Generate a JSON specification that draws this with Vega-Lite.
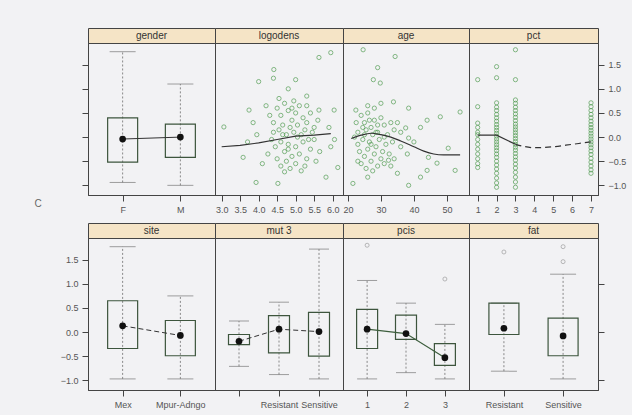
{
"$schema": "https://vega.github.io/schema/vega-lite/v6.json",
"background": "#f2f2f4",
"padding": {"left": 33, "top": 27, "right": 5, "bottom": 5},
"config": {
  "view": {"stroke": "#444", "strokeWidth": 1},
  "axis": {"labelFont": "Liberation Sans", "labelFontSize": 9, "labelColor": "#555", "domainColor": "#444", "tickColor": "#444", "tickSize": 6, "grid": false, "title": null, "labelPadding": 4, "labelFlush": false, "labelOverlap": false},
  "text": {"font": "Liberation Sans"}
},
"datasets": {
  "logodens": [
    {"x":5.63,"y":1.65},{"x":5.95,"y":1.75},{"x":4.41,"y":1.4},{"x":4.4,"y":1.22},{"x":4.0,"y":1.15},{"x":5.0,"y":1.19},{"x":3.06,"y":0.21},{"x":3.74,"y":0.56},{"x":6.04,"y":0.56},{"x":5.63,"y":0.56},{"x":3.58,"y":-0.42},{"x":3.93,"y":-0.94},{"x":4.52,"y":-0.96},{"x":5.82,"y":-0.83},{"x":6.14,"y":-0.63},{"x":3.7,"y":-0.1},{"x":3.85,"y":0.3},{"x":4.1,"y":-0.55},{"x":3.95,"y":0.05},{"x":5.9,"y":0.2},{"x":5.95,"y":-0.2},{"x":6.05,"y":-0.05},{"x":4.2,"y":0.65},{"x":5.3,"y":0.85},{"x":4.8,"y":1.0},
    {"x":4.5,"y":0.6},{"x":4.6,"y":0.45},{"x":4.7,"y":0.7},{"x":4.8,"y":0.55},{"x":4.9,"y":0.35},{"x":5.0,"y":0.5},{"x":5.1,"y":0.65},{"x":5.2,"y":0.4},{"x":5.3,"y":0.3},{"x":5.4,"y":0.5},{"x":5.5,"y":0.2},{"x":4.4,"y":0.3},{"x":4.55,"y":0.15},{"x":4.65,"y":0.25},{"x":4.75,"y":0.05},{"x":4.85,"y":0.2},{"x":4.95,"y":0.1},{"x":5.05,"y":0.25},{"x":5.15,"y":0.05},{"x":5.25,"y":0.15},{"x":5.35,"y":-0.05},{"x":5.45,"y":0.1},{"x":4.35,"y":-0.05},{"x":4.45,"y":-0.2},{"x":4.6,"y":-0.1},{"x":4.7,"y":-0.3},{"x":4.8,"y":-0.15},{"x":4.9,"y":-0.4},{"x":5.0,"y":-0.2},{"x":5.1,"y":-0.35},{"x":5.2,"y":-0.1},{"x":5.3,"y":-0.45},{"x":5.4,"y":-0.25},{"x":5.55,"y":-0.5},{"x":4.5,"y":-0.45},{"x":4.6,"y":-0.6},{"x":4.75,"y":-0.5},{"x":4.85,"y":-0.65},{"x":5.0,"y":-0.55},{"x":5.15,"y":-0.7},{"x":5.25,"y":-0.6},{"x":4.3,"y":0.45},{"x":4.4,"y":0.1},{"x":4.55,"y":0.8},{"x":4.95,"y":0.75},{"x":5.6,"y":0.35},{"x":5.65,"y":-0.3},{"x":4.25,"y":-0.35},{"x":4.7,"y":-0.72},{"x":5.05,"y":0.0},{"x":4.9,"y":0.6},{"x":5.3,"y":0.65},{"x":4.65,"y":0.05},{"x":5.5,"y":-0.05},{"x":4.8,"y":-0.25}
  ],
  "logodens_fit": [{"x":3.0,"y":-0.2},{"x":3.5,"y":-0.17},{"x":4.0,"y":-0.12},{"x":4.5,"y":-0.05},{"x":5.0,"y":0.02},{"x":5.5,"y":0.04},{"x":5.95,"y":0.07}],
  "age": [
    {"x":24.6,"y":1.81},{"x":34.3,"y":1.67},{"x":29,"y":1.44},{"x":27.7,"y":1.19},{"x":29.8,"y":1.12},{"x":22.4,"y":0.56},{"x":33.8,"y":0.73},{"x":38.4,"y":0.6},{"x":44,"y":0.35},{"x":48,"y":0.42},{"x":54,"y":0.52},{"x":37.5,"y":0.19},{"x":38.4,"y":-0.02},{"x":50.4,"y":-0.23},{"x":44.4,"y":-0.42},{"x":47,"y":-0.54},{"x":52.5,"y":-0.69},{"x":44,"y":-0.69},{"x":38.4,"y":-1.0},{"x":42,"y":-0.83},{"x":21.5,"y":-0.96},{"x":26,"y":-0.83},{"x":35,"y":-0.75},{"x":32.3,"y":-0.48},
    {"x":24,"y":0.45},{"x":25,"y":0.3},{"x":26,"y":0.5},{"x":27,"y":0.2},{"x":28,"y":0.35},{"x":29,"y":0.1},{"x":30,"y":0.4},{"x":31,"y":0.25},{"x":32,"y":0.05},{"x":33,"y":0.3},{"x":34,"y":0.15},{"x":23,"y":0.1},{"x":24.5,"y":-0.05},{"x":25.5,"y":0.15},{"x":26.5,"y":-0.1},{"x":27.5,"y":0.05},{"x":28.5,"y":-0.2},{"x":29.5,"y":-0.05},{"x":30.5,"y":-0.3},{"x":31.5,"y":-0.15},{"x":32.5,"y":-0.35},{"x":33.5,"y":-0.1},{"x":23.5,"y":-0.3},{"x":25,"y":-0.4},{"x":26,"y":-0.25},{"x":27,"y":-0.5},{"x":28,"y":-0.35},{"x":29,"y":-0.6},{"x":30,"y":-0.45},{"x":31,"y":-0.55},{"x":25.5,"y":-0.65},{"x":27.5,"y":-0.7},{"x":24,"y":-0.55},{"x":22.5,"y":0.3},{"x":23,"y":-0.15},{"x":26,"y":0.65},{"x":28,"y":0.6},{"x":30,"y":0.7},{"x":25,"y":0.05},{"x":27,"y":-0.15},{"x":29,"y":0.25},{"x":31,"y":0.0},{"x":35,"y":0.3},{"x":36,"y":-0.2},{"x":34,"y":-0.45},{"x":26.5,"y":0.35},{"x":28.5,"y":0.1},{"x":24.5,"y":0.2},{"x":22,"y":0.0},{"x":33,"y":-0.6},{"x":36,"y":0.1},{"x":38,"y":-0.35},{"x":40,"y":-0.1},{"x":42,"y":0.2},{"x":23,"y":-0.5}
  ],
  "age_fit": [{"x":21,"y":-0.03},{"x":24,"y":0.04},{"x":27,"y":0.08},{"x":30,"y":0.05},{"x":33,"y":0.0},{"x":36,"y":-0.08},{"x":40,"y":-0.2},{"x":43,"y":-0.29},{"x":46,"y":-0.35},{"x":49,"y":-0.37},{"x":54,"y":-0.37}],
  "pct": [
    {"x":1,"y":1.19},{"x":1,"y":0.63},{"x":1,"y":0.29},{"x":1,"y":0.2},{"x":1,"y":0.1},{"x":1,"y":0.05},{"x":1,"y":-0.05},{"x":1,"y":-0.15},{"x":1,"y":-0.25},{"x":1,"y":-0.35},{"x":1,"y":-0.45},{"x":1,"y":-0.55},{"x":1,"y":-0.63},
    {"x":2,"y":1.46},{"x":2,"y":1.23},{"x":2,"y":0.71},{"x":2,"y":0.62},{"x":2,"y":0.55},{"x":2,"y":0.47},{"x":2,"y":0.4},{"x":2,"y":0.33},{"x":2,"y":0.26},{"x":2,"y":0.2},{"x":2,"y":0.14},{"x":2,"y":0.08},{"x":2,"y":0.02},{"x":2,"y":-0.04},{"x":2,"y":-0.1},{"x":2,"y":-0.16},{"x":2,"y":-0.22},{"x":2,"y":-0.28},{"x":2,"y":-0.35},{"x":2,"y":-0.42},{"x":2,"y":-0.5},{"x":2,"y":-0.58},{"x":2,"y":-0.66},{"x":2,"y":-0.75},{"x":2,"y":-0.85},{"x":2,"y":-0.95},{"x":2,"y":-1.04},
    {"x":3,"y":1.81},{"x":3,"y":1.19},{"x":3,"y":0.77},{"x":3,"y":0.7},{"x":3,"y":0.62},{"x":3,"y":0.55},{"x":3,"y":0.48},{"x":3,"y":0.41},{"x":3,"y":0.34},{"x":3,"y":0.27},{"x":3,"y":0.21},{"x":3,"y":0.15},{"x":3,"y":0.09},{"x":3,"y":0.03},{"x":3,"y":-0.03},{"x":3,"y":-0.09},{"x":3,"y":-0.15},{"x":3,"y":-0.21},{"x":3,"y":-0.27},{"x":3,"y":-0.34},{"x":3,"y":-0.41},{"x":3,"y":-0.48},{"x":3,"y":-0.56},{"x":3,"y":-0.64},{"x":3,"y":-0.73},{"x":3,"y":-0.83},{"x":3,"y":-0.93},{"x":3,"y":-1.04},
    {"x":7,"y":0.71},{"x":7,"y":0.63},{"x":7,"y":0.55},{"x":7,"y":0.47},{"x":7,"y":0.4},{"x":7,"y":0.33},{"x":7,"y":0.26},{"x":7,"y":0.2},{"x":7,"y":0.14},{"x":7,"y":0.08},{"x":7,"y":0.02},{"x":7,"y":-0.04},{"x":7,"y":-0.1},{"x":7,"y":-0.16},{"x":7,"y":-0.22},{"x":7,"y":-0.29},{"x":7,"y":-0.36},{"x":7,"y":-0.44},{"x":7,"y":-0.52},{"x":7,"y":-0.6},{"x":7,"y":-0.68},{"x":7,"y":-0.75}
  ],
  "pct_fit_a": [{"x":1,"y":0.04},{"x":2,"y":0.04},{"x":3,"y":-0.15}],
  "pct_fit_b": [{"x":3,"y":-0.15},{"x":4,"y":-0.22},{"x":5,"y":-0.2},{"x":6,"y":-0.15},{"x":7,"y":-0.1}],
  "gender": [{"cat":"F","lo":-0.94,"q1":-0.52,"mean":-0.04,"q3":0.4,"hi":1.77},{"cat":"M","lo":-1.0,"q1":-0.42,"mean":0.0,"q3":0.27,"hi":1.1}],
  "site": [{"cat":"Mex","lo":-0.97,"q1":-0.34,"mean":0.13,"q3":0.65,"hi":1.77},{"cat":"Mpur-Adngo","lo":-0.97,"q1":-0.49,"mean":-0.07,"q3":0.24,"hi":0.75}],
  "mut3": [{"cat":"Absent","lo":-0.71,"q1":-0.26,"mean":-0.19,"q3":-0.05,"hi":0.23},{"cat":"Resistant","lo":-0.88,"q1":-0.43,"mean":0.06,"q3":0.34,"hi":0.62},{"cat":"Sensitive","lo":-0.97,"q1":-0.5,"mean":0.01,"q3":0.41,"hi":1.72}],
  "pcis": [{"cat":"1","lo":-0.97,"q1":-0.34,"mean":0.06,"q3":0.47,"hi":1.07},{"cat":"2","lo":-0.84,"q1":-0.15,"mean":-0.03,"q3":0.35,"hi":0.6},{"cat":"3","lo":-0.97,"q1":-0.69,"mean":-0.53,"q3":-0.24,"hi":0.16}],
  "pcis_out": [{"cat":"1","v":1.8},{"cat":"3","v":1.1}],
  "fat": [{"cat":"Resistant","lo":-0.81,"q1":-0.05,"mean":0.08,"q3":0.6,"hi":0.6},{"cat":"Sensitive","lo":-0.97,"q1":-0.49,"mean":-0.08,"q3":0.29,"hi":1.2}],
  "fat_out": [{"cat":"Resistant","v":1.66},{"cat":"Sensitive","v":1.77},{"cat":"Sensitive","v":1.46}]
},
"columns": 4,
"spacing": 0,
"bounds": "flush",
"align": "each",
"concat": [
  {"width":127,"height":15,"data":{"values":[{"s":"gender"}]},"mark":{"type":"text","fontSize":10,"color":"#333"},"encoding":{"text":{"field":"s"}},"view":{"fill":"#f5e4c6","stroke":"#444"}},
  {"width":128,"height":15,"data":{"values":[{"s":"logodens"}]},"mark":{"type":"text","fontSize":10,"color":"#333"},"encoding":{"text":{"field":"s"}},"view":{"fill":"#f5e4c6","stroke":"#444"}},
  {"width":126,"height":15,"data":{"values":[{"s":"age"}]},"mark":{"type":"text","fontSize":10,"color":"#333"},"encoding":{"text":{"field":"s"}},"view":{"fill":"#f5e4c6","stroke":"#444"}},
  {"width":129,"height":15,"data":{"values":[{"s":"pct"}]},"mark":{"type":"text","fontSize":10,"color":"#333"},"encoding":{"text":{"field":"s"}},"view":{"fill":"#f5e4c6","stroke":"#444"}},

  {"width":127,"height":152,"data":{"name":"gender"},"encoding":{"x":{"field":"cat","type":"nominal","scale":{"type":"point","padding":0.6},"axis":{"labelAngle":0}}},"layer":[
    {"mark":{"type":"rule","color":"#888","strokeDash":[2,2]},"encoding":{"y":{"field":"lo","type":"quantitative","scale":{"domain":[-1.2,1.95],"nice":false},"axis":{"orient":"left","labels":false,"values":[-1,-0.5,0,0.5,1,1.5],"tickCount":20,"title":"C","titleAngle":0,"titleX":-54,"titleY":165,"titleAlign":"left","titleFontSize":10,"titleFontWeight":"normal","titleColor":"#666","titleFont":"Liberation Sans"}},"y2":{"field":"hi"}}},
    {"mark":{"type":"tick","size":26,"thickness":1,"color":"#777","strokeDash":[3,3]},"encoding":{"y":{"field":"lo","type":"quantitative"}}},
    {"mark":{"type":"tick","size":26,"thickness":1,"color":"#777","strokeDash":[3,3]},"encoding":{"y":{"field":"hi","type":"quantitative"}}},
    {"mark":{"type":"bar","size":30,"fillOpacity":0,"stroke":"#3d553d","strokeWidth":1.2},"encoding":{"y":{"field":"q1","type":"quantitative"},"y2":{"field":"q3"}}},
    {"mark":{"type":"line","color":"#333","strokeWidth":1},"encoding":{"y":{"field":"mean","type":"quantitative"}}},
    {"mark":{"type":"point","filled":true,"size":45,"color":"#111","opacity":1},"encoding":{"y":{"field":"mean","type":"quantitative"}}}
  ]},
  {"width":128,"height":152,"layer":[
    {"data":{"name":"logodens"},"mark":{"type":"point","size":18,"strokeWidth":0.8,"color":"#4f9a4f","opacity":0.85},"encoding":{"x":{"field":"x","type":"quantitative","scale":{"domain":[2.82,6.28],"nice":false,"zero":false},"axis":{"values":[3,3.5,4,4.5,5,5.5,6],"tickCount":20,"format":".1f"}},"y":{"field":"y","type":"quantitative","scale":{"domain":[-1.2,1.95],"nice":false},"axis":null}}},
    {"data":{"name":"logodens_fit"},"mark":{"type":"line","color":"#333","strokeWidth":1.2},"encoding":{"x":{"field":"x","type":"quantitative"},"y":{"field":"y","type":"quantitative"}}}
  ]},
  {"width":126,"height":152,"layer":[
    {"data":{"name":"age"},"mark":{"type":"point","size":18,"strokeWidth":0.8,"color":"#4f9a4f","opacity":0.85},"encoding":{"x":{"field":"x","type":"quantitative","scale":{"domain":[18.5,56.7],"nice":false,"zero":false},"axis":{"values":[20,30,40,50],"tickCount":20,"format":"d"}},"y":{"field":"y","type":"quantitative","scale":{"domain":[-1.2,1.95],"nice":false},"axis":null}}},
    {"data":{"name":"age_fit"},"mark":{"type":"line","color":"#333","strokeWidth":1.2,"interpolate":"monotone"},"encoding":{"x":{"field":"x","type":"quantitative"},"y":{"field":"y","type":"quantitative"}}}
  ]},
  {"width":129,"height":152,"layer":[
    {"data":{"name":"pct"},"mark":{"type":"point","size":18,"strokeWidth":0.8,"color":"#4f9a4f","opacity":0.85},"encoding":{"x":{"field":"x","type":"quantitative","scale":{"domain":[0.54,7.37],"nice":false,"zero":false},"axis":{"values":[1,2,3,4,5,6,7],"tickCount":20,"format":"d"}},"y":{"field":"y","type":"quantitative","scale":{"domain":[-1.2,1.95],"nice":false},"axis":{"orient":"right","values":[-1,-0.5,0,0.5,1,1.5],"tickCount":20,"format":".1f"}}}},
    {"data":{"name":"pct_fit_a"},"mark":{"type":"line","color":"#333","strokeWidth":1.2},"encoding":{"x":{"field":"x","type":"quantitative"},"y":{"field":"y","type":"quantitative"}}},
    {"data":{"name":"pct_fit_b"},"mark":{"type":"line","color":"#333","strokeWidth":1.2,"strokeDash":[6,4],"interpolate":"monotone"},"encoding":{"x":{"field":"x","type":"quantitative"},"y":{"field":"y","type":"quantitative"}}}
  ]},

  {"width":127,"height":28,"data":{"values":[]},"mark":"point","view":{"stroke":null}},
  {"width":128,"height":28,"data":{"values":[]},"mark":"point","view":{"stroke":null}},
  {"width":126,"height":28,"data":{"values":[]},"mark":"point","view":{"stroke":null}},
  {"width":129,"height":28,"data":{"values":[]},"mark":"point","view":{"stroke":null}},

  {"width":127,"height":15,"data":{"values":[{"s":"site"}]},"mark":{"type":"text","fontSize":10,"color":"#333"},"encoding":{"text":{"field":"s"}},"view":{"fill":"#f5e4c6","stroke":"#444"}},
  {"width":128,"height":15,"data":{"values":[{"s":"mut 3"}]},"mark":{"type":"text","fontSize":10,"color":"#333"},"encoding":{"text":{"field":"s"}},"view":{"fill":"#f5e4c6","stroke":"#444"}},
  {"width":126,"height":15,"data":{"values":[{"s":"pcis"}]},"mark":{"type":"text","fontSize":10,"color":"#333"},"encoding":{"text":{"field":"s"}},"view":{"fill":"#f5e4c6","stroke":"#444"}},
  {"width":129,"height":15,"data":{"values":[{"s":"fat"}]},"mark":{"type":"text","fontSize":10,"color":"#333"},"encoding":{"text":{"field":"s"}},"view":{"fill":"#f5e4c6","stroke":"#444"}},

  {"width":127,"height":152,"data":{"name":"site"},"encoding":{"x":{"field":"cat","type":"nominal","scale":{"type":"point","padding":0.6},"axis":{"labelAngle":0}}},"layer":[
    {"mark":{"type":"rule","color":"#888","strokeDash":[2,2]},"encoding":{"y":{"field":"lo","type":"quantitative","scale":{"domain":[-1.2,1.95],"nice":false},"axis":{"orient":"left","values":[-1,-0.5,0,0.5,1,1.5],"tickCount":20,"format":".1f"}},"y2":{"field":"hi"}}},
    {"mark":{"type":"tick","size":26,"thickness":1,"color":"#777","strokeDash":[3,3]},"encoding":{"y":{"field":"lo","type":"quantitative"}}},
    {"mark":{"type":"tick","size":26,"thickness":1,"color":"#777","strokeDash":[3,3]},"encoding":{"y":{"field":"hi","type":"quantitative"}}},
    {"mark":{"type":"bar","size":30,"fillOpacity":0,"stroke":"#3d553d","strokeWidth":1.2},"encoding":{"y":{"field":"q1","type":"quantitative"},"y2":{"field":"q3"}}},
    {"mark":{"type":"line","color":"#333","strokeWidth":1,"strokeDash":[5,3]},"encoding":{"y":{"field":"mean","type":"quantitative"}}},
    {"mark":{"type":"point","filled":true,"size":45,"color":"#111","opacity":1},"encoding":{"y":{"field":"mean","type":"quantitative"}}}
  ]},
  {"width":128,"height":152,"data":{"name":"mut3"},"encoding":{"x":{"field":"cat","type":"nominal","scale":{"type":"point","padding":0.6,"domain":["Absent","Resistant","Sensitive"]},"axis":{"labelAngle":0,"labelExpr":"datum.value == 'Absent' ? '' : datum.label"}}},"layer":[
    {"mark":{"type":"rule","color":"#888","strokeDash":[2,2]},"encoding":{"y":{"field":"lo","type":"quantitative","scale":{"domain":[-1.2,1.95],"nice":false},"axis":null},"y2":{"field":"hi"}}},
    {"mark":{"type":"tick","size":20,"thickness":1,"color":"#777","strokeDash":[3,3]},"encoding":{"y":{"field":"lo","type":"quantitative"}}},
    {"mark":{"type":"tick","size":20,"thickness":1,"color":"#777","strokeDash":[3,3]},"encoding":{"y":{"field":"hi","type":"quantitative"}}},
    {"mark":{"type":"bar","size":21,"fillOpacity":0,"stroke":"#3d553d","strokeWidth":1.2},"encoding":{"y":{"field":"q1","type":"quantitative"},"y2":{"field":"q3"}}},
    {"mark":{"type":"line","color":"#333","strokeWidth":1,"strokeDash":[5,3]},"encoding":{"y":{"field":"mean","type":"quantitative"}}},
    {"mark":{"type":"point","filled":true,"size":45,"color":"#111","opacity":1},"encoding":{"y":{"field":"mean","type":"quantitative"}}}
  ]},
  {"width":126,"height":152,"data":{"name":"pcis"},"encoding":{"x":{"field":"cat","type":"nominal","scale":{"type":"point","padding":0.62},"axis":{"labelAngle":0}}},"layer":[
    {"mark":{"type":"rule","color":"#888","strokeDash":[2,2]},"encoding":{"y":{"field":"lo","type":"quantitative","scale":{"domain":[-1.2,1.95],"nice":false},"axis":null},"y2":{"field":"hi"}}},
    {"mark":{"type":"tick","size":20,"thickness":1,"color":"#777","strokeDash":[3,3]},"encoding":{"y":{"field":"lo","type":"quantitative"}}},
    {"mark":{"type":"tick","size":20,"thickness":1,"color":"#777","strokeDash":[3,3]},"encoding":{"y":{"field":"hi","type":"quantitative"}}},
    {"mark":{"type":"bar","size":21,"fillOpacity":0,"stroke":"#3d553d","strokeWidth":1.2},"encoding":{"y":{"field":"q1","type":"quantitative"},"y2":{"field":"q3"}}},
    {"mark":{"type":"line","color":"#3d5e3d","strokeWidth":1.2},"encoding":{"y":{"field":"mean","type":"quantitative"}}},
    {"mark":{"type":"point","filled":true,"size":45,"color":"#111","opacity":1},"encoding":{"y":{"field":"mean","type":"quantitative"}}},
    {"data":{"name":"pcis_out"},"mark":{"type":"point","size":16,"color":"#888","strokeWidth":0.8},"encoding":{"x":{"field":"cat","type":"nominal"},"y":{"field":"v","type":"quantitative"}}}
  ]},
  {"width":129,"height":152,"data":{"name":"fat"},"encoding":{"x":{"field":"cat","type":"nominal","scale":{"type":"point","padding":0.59},"axis":{"labelAngle":0}}},"layer":[
    {"mark":{"type":"rule","color":"#888","strokeDash":[2,2]},"encoding":{"y":{"field":"lo","type":"quantitative","scale":{"domain":[-1.2,1.95],"nice":false},"axis":{"orient":"right","labels":false,"values":[-1,0,1],"tickCount":20}},"y2":{"field":"hi"}}},
    {"mark":{"type":"tick","size":26,"thickness":1,"color":"#777","strokeDash":[3,3]},"encoding":{"y":{"field":"lo","type":"quantitative"}}},
    {"mark":{"type":"tick","size":26,"thickness":1,"color":"#777","strokeDash":[3,3]},"encoding":{"y":{"field":"hi","type":"quantitative"}}},
    {"mark":{"type":"bar","size":30,"fillOpacity":0,"stroke":"#3d553d","strokeWidth":1.2},"encoding":{"y":{"field":"q1","type":"quantitative"},"y2":{"field":"q3"}}},
    {"mark":{"type":"point","filled":true,"size":45,"color":"#111","opacity":1},"encoding":{"y":{"field":"mean","type":"quantitative"}}},
    {"data":{"name":"fat_out"},"mark":{"type":"point","size":16,"color":"#888","strokeWidth":0.8},"encoding":{"x":{"field":"cat","type":"nominal"},"y":{"field":"v","type":"quantitative"}}}
  ]}
]
}
